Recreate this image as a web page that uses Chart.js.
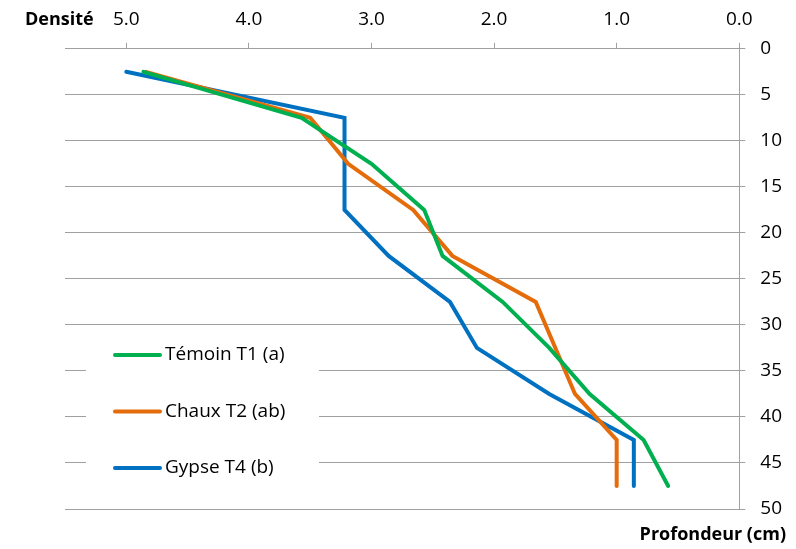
<!DOCTYPE html>
<html>
<head>
<meta charset="utf-8">
<script src="https://cdn.jsdelivr.net/npm/chart.js@4"></script>
<style>
  html, body { margin: 0; padding: 0; background: #ffffff; }
  #wrap { width: 796px; height: 549px; }
</style>
</head>
<body>
<div id="wrap"><canvas id="densiteChart" width="796" height="549"></canvas></div>
<script>
// profondeur (cm) au milieu de chaque couche
var depths = [2.5, 7.5, 12.5, 17.5, 22.5, 27.5, 32.5, 37.5, 42.5, 47.5];

// densité lue pour chaque traitement
var temoinT1 = [4.86, 3.57, 3.0, 2.57, 2.42, 1.93, 1.55, 1.22, 0.78, 0.58];
var chauxT2 = [4.84, 3.50, 3.19, 2.66, 2.34, 1.66, 1.50, 1.34, 1.0, 1.0];
var gypseT4 = [5.0, 3.22, 3.22, 3.22, 2.86, 2.36, 2.14, 1.55, 0.86, 0.86];

var seriesNames = ['Témoin T1 (a)', 'Chaux T2 (ab)', 'Gypse T4 (b)'];
var seriesColors = ['#00b050', '#e46c0a', '#0070c0'];

var densityTicks = [0, 1, 2, 3, 4, 5];
var depthTicks = [0, 5, 10, 15, 20, 25, 30, 35, 40, 45, 50];

var FONT = "'Open Sans', 'Noto Sans', sans-serif";
var GRID = '#a0a0a0';

function toPoints(values) {
  return values.map(function(v, i) {
    return { x: v, y: depths[i] };
  });
}

// petite légende dans la zone de tracé + titres des axes
var extras = {
  id: 'extras',
  afterDraw: function(chart) {
    var ctx = chart.ctx;
    ctx.save();

    // fond blanc de la légende (coupe le quadrillage)
    ctx.fillStyle = '#ffffff';
    ctx.fillRect(86, 335, 233, 160);

    ctx.font = '19px ' + FONT;
    ctx.textBaseline = 'middle';
    ctx.textAlign = 'left';
    ctx.lineCap = 'round';
    for (var i = 0; i < seriesNames.length; i++) {
      var y = 355 + i * 56.5;
      ctx.strokeStyle = seriesColors[i];
      ctx.lineWidth = 4;
      ctx.beginPath();
      ctx.moveTo(115, y);
      ctx.lineTo(160, y);
      ctx.stroke();
      ctx.fillStyle = '#000000';
      ctx.fillText(seriesNames[i], 165, y);
    }

    ctx.font = 'bold 18px ' + FONT;
    ctx.textBaseline = 'alphabetic';
    ctx.fillStyle = '#000000';
    ctx.textAlign = 'left';
    ctx.fillText('Densité', 25, 25);
    ctx.textAlign = 'right';
    ctx.fillText('Profondeur (cm)', 786, 540);

    ctx.restore();
  }
};

var ctx = document.getElementById('densiteChart').getContext('2d');
var chart = new Chart(ctx, {
  type: 'line',
  data: {
    datasets: [
      { label: seriesNames[0], data: toPoints(temoinT1), borderColor: seriesColors[0] },
      { label: seriesNames[1], data: toPoints(chauxT2), borderColor: seriesColors[1] },
      { label: seriesNames[2], data: toPoints(gypseT4), borderColor: seriesColors[2] }
    ]
  },
  options: {
    responsive: false,
    animation: false,
    layout: { padding: { left: 65, right: -1, top: -4, bottom: 40 } },
    elements: {
      point: { radius: 0 },
      line: { borderWidth: 4, tension: 0, fill: false, borderCapStyle: 'round', borderJoinStyle: 'miter' }
    },
    plugins: {
      legend: { display: false },
      tooltip: { enabled: false }
    },
    scales: {
      x: {
        type: 'linear',
        position: 'top',
        reverse: true,
        min: 0,
        max: 5.5,
        afterBuildTicks: function(scale) {
          scale.ticks = densityTicks.map(function(v) { return { value: v }; });
        },
        ticks: {
          padding: 12,
          color: '#000000',
          font: { family: FONT, size: 19 },
          maxRotation: 0,
          callback: function(v) { return Number(v).toFixed(1); }
        },
        grid: { drawOnChartArea: false, drawTicks: true, tickLength: 6, color: GRID },
        border: { display: true, color: GRID }
      },
      y: {
        type: 'linear',
        position: 'right',
        reverse: true,
        min: 0,
        max: 50,
        afterBuildTicks: function(scale) {
          scale.ticks = depthTicks.map(function(v) { return { value: v }; });
        },
        ticks: {
          padding: 15,
          color: '#000000',
          font: { family: FONT, size: 19 }
        },
        grid: { color: GRID, lineWidth: 1, tickLength: 6 },
        border: { display: true, color: GRID }
      }
    }
  },
  plugins: [extras]
});
</script>
</body>
</html>
